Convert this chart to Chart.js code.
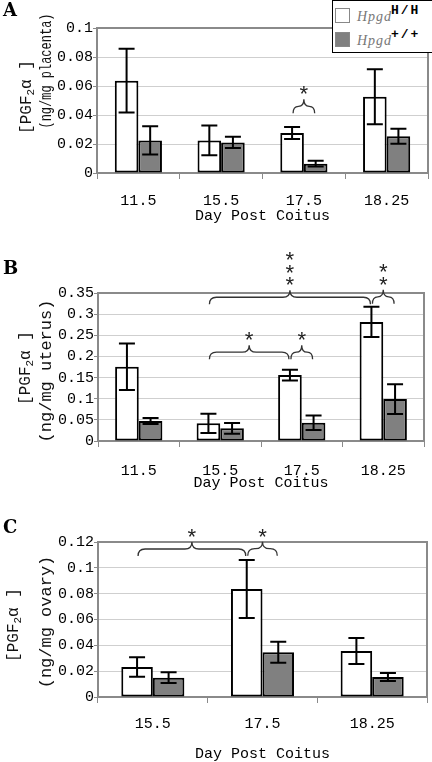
<!DOCTYPE html>
<html lang="en">
<head>
<meta charset="UTF-8">
<title>PGF2a by day post coitus</title>
<script src="https://cdn.jsdelivr.net/npm/chart.js"></script>
<style>
  body { margin: 0; background: #fff; }
  #page { position: relative; width: 432px; height: 762px; overflow: hidden; background: #fff; }
  canvas { position: absolute; left: 0; }
  .letter { position: absolute; left: 3px; font: bold 18px 'DejaVu Serif', serif; color: #000; line-height: 18px; }
  .legend { position: absolute; left: 332px; top: 0; width: 110px; height: 51px; border: 1px solid #000; background: #fff; }
  .legend span { position: absolute; white-space: nowrap; }
  .sw { width: 13px; height: 13px; border: 1px solid #888; }
  .lab { font: italic 14px 'Liberation Serif', serif; color: #777; letter-spacing: 1px; }
  .sup { font: bold 13px 'Liberation Mono', monospace; color: #000; letter-spacing: 2px; }
</style>
</head>
<body>
<div id="page">
  <canvas id="chartA" width="432" height="228" style="top:0"></canvas>
  <canvas id="chartB" width="432" height="267" style="top:228px"></canvas>
  <canvas id="chartC" width="432" height="267" style="top:495px"></canvas>

  <div class="letter" style="top:1px">A</div>
  <div class="letter" style="top:259px">B</div>
  <div class="letter" style="top:518px">C</div>

  <div class="legend">
    <span class="sw" style="left:2px; top:7px; background:#fff"></span>
    <span class="lab" style="left:24px; top:8px">Hpgd</span>
    <span class="sup" style="left:58px; top:2px">H/H</span>
    <span class="sw" style="left:2px; top:31px; background:#808080"></span>
    <span class="lab" style="left:24px; top:32px">Hpgd</span>
    <span class="sup" style="left:58px; top:26px">+/+</span>
  </div>
</div>

<script>
  // categories
  const daysAB = ['11.5', '15.5', '17.5', '18.25'];
  const daysC = ['15.5', '17.5', '18.25'];

  // A: placenta (ng/mg)
  const placentaHH = [0.0637, 0.0225, 0.0276, 0.0526];
  const placentaHHErr = [0.022, 0.0102, 0.0041, 0.019];
  const placentaWT = [0.0225, 0.0211, 0.0064, 0.0253];
  const placentaWTErr = [0.0097, 0.0039, 0.002, 0.0052];

  // B: uterus (ng/mg)
  const uterusHH = [0.1754, 0.0417, 0.1558, 0.2817];
  const uterusHHErr = [0.055, 0.023, 0.0126, 0.036];
  const uterusWT = [0.0472, 0.030, 0.0433, 0.0991];
  const uterusWTErr = [0.007, 0.0128, 0.017, 0.035];

  // C: ovary (ng/mg)
  const ovaryHH = [0.0232, 0.0836, 0.0356];
  const ovaryHHErr = [0.0075, 0.0225, 0.01];
  const ovaryWT = [0.015, 0.0346, 0.0155];
  const ovaryWTErr = [0.0042, 0.0081, 0.0031];

  // significance braces: [dataset, index] -> [dataset, index], level in data units
  const placentaBraces = [
    { from: [0, 2], to: [1, 2], level: 0.046, stars: 1 }
  ];
  const uterusBraces = [
    { from: [0, 1], to: [0, 3], level: 0.34, stars: 3 },
    { from: [0, 3], to: [1, 3], level: 0.341, stars: 2 },
    { from: [0, 1], to: [0, 2], level: 0.21, stars: 1 },
    { from: [0, 2], to: [1, 2], level: 0.21, stars: 1 }
  ];
  const ovaryBraces = [
    { from: [0, 0], to: [0, 1], level: 0.1146, stars: 1 },
    { from: [0, 1], to: [1, 1], level: 0.1148, stars: 1 }
  ];

  const MONO = "'Liberation Mono', monospace";

  function drawBrace(ctx, x1, x2, yl, h1, h2) {
    const xm = (x1 + x2) / 2;
    const r = Math.min(7, (x2 - x1) / 4);
    ctx.beginPath();
    ctx.moveTo(x1, yl + h1);
    ctx.quadraticCurveTo(x1, yl, x1 + r, yl);
    ctx.lineTo(xm - r, yl);
    ctx.quadraticCurveTo(xm, yl, xm, yl - h2);
    ctx.quadraticCurveTo(xm, yl, xm + r, yl);
    ctx.lineTo(x2 - r, yl);
    ctx.quadraticCurveTo(x2, yl, x2, yl + h1);
    ctx.stroke();
  }

  function drawStar(ctx, x, yc) {
    ctx.font = '22px ' + MONO;
    const m = ctx.measureText('*');
    const base = yc + (m.actualBoundingBoxAscent - m.actualBoundingBoxDescent) / 2;
    ctx.textAlign = 'center';
    ctx.textBaseline = 'alphabetic';
    ctx.fillText('*', x, base);
  }

  // rotated y title, two lines
  function drawYTitle(ctx, t) {
    ctx.save();
    ctx.fillStyle = '#111';
    ctx.textBaseline = 'middle';
    ctx.textAlign = 'left';
    // line 1: [PGF2a ]
    ctx.save();
    ctx.translate(t.x1, t.y1);
    ctx.rotate(-Math.PI / 2);
    const big = '16px ' + MONO, small = '11px ' + MONO;
    ctx.font = big;
    const w1 = ctx.measureText('[PGF').width;
    const w3 = ctx.measureText('\u03b1 ]').width;
    ctx.font = small;
    const w2 = ctx.measureText('2').width;
    let x = -(w1 + w2 + w3) / 2;
    ctx.font = big;
    ctx.fillText('[PGF', x, 0);
    x += w1;
    ctx.font = small;
    ctx.fillText('2', x, 4);
    x += w2;
    ctx.font = big;
    ctx.fillText('\u03b1 ]', x, 0);
    ctx.restore();
    // line 2
    ctx.translate(t.x2, t.y2);
    ctx.rotate(-Math.PI / 2);
    ctx.font = '17px ' + MONO;
    ctx.textAlign = 'center';
    ctx.fillText(t.text, 0, 0, t.maxWidth);
    ctx.restore();
  }

  const extras = {
    id: 'extras',
    beforeDatasetsDraw(chart) {
      const { ctx, chartArea: a } = chart;
      ctx.save();
      ctx.strokeStyle = '#8a8a8a';
      ctx.lineWidth = 2;
      ctx.strokeRect(a.left, a.top, a.right - a.left, a.bottom - a.top);
      ctx.restore();
    },
    afterDatasetsDraw(chart, args, opts) {
      const ctx = chart.ctx;
      const y = chart.scales.y;
      ctx.save();
      // error bars
      ctx.strokeStyle = '#000';
      ctx.lineWidth = 2;
      opts.errors.forEach((errs, d) => {
        const vals = chart.data.datasets[d].data;
        chart.getDatasetMeta(d).data.forEach((bar, i) => {
          const top = y.getPixelForValue(vals[i] + errs[i]);
          const bot = y.getPixelForValue(vals[i] - errs[i]);
          ctx.beginPath();
          ctx.moveTo(bar.x, top);
          ctx.lineTo(bar.x, bot);
          ctx.moveTo(bar.x - 8, top);
          ctx.lineTo(bar.x + 8, top);
          ctx.moveTo(bar.x - 8, bot);
          ctx.lineTo(bar.x + 8, bot);
          ctx.stroke();
        });
      });
      // braces and stars
      ctx.strokeStyle = '#333';
      ctx.fillStyle = '#222';
      ctx.lineWidth = 1.3;
      opts.braces.forEach(b => {
        const x1 = chart.getDatasetMeta(b.from[0]).data[b.from[1]].x + 1;
        const x2 = chart.getDatasetMeta(b.to[0]).data[b.to[1]].x - 1;
        const yl = y.getPixelForValue(b.level);
        drawBrace(ctx, x1, x2, yl, 7, 7);
        for (let s = 0; s < b.stars; s++) {
          drawStar(ctx, (x1 + x2) / 2, yl - 7 - 9 - s * 12.5);
        }
      });
      ctx.restore();
      drawYTitle(ctx, opts.title);
    }
  };

  function makeChart(id, labels, hh, wt, errs, braces, cfg) {
    return new Chart(document.getElementById(id), {
      type: 'bar',
      data: {
        labels: labels,
        datasets: [
          { label: 'Hpgd H/H', data: hh, backgroundColor: '#ffffff', borderColor: '#000', borderWidth: 2, borderSkipped: false },
          { label: 'Hpgd +/+', data: wt, backgroundColor: '#808080', borderColor: '#000', borderWidth: 2, borderSkipped: false }
        ]
      },
      options: {
        responsive: false,
        animation: false,
        categoryPercentage: cfg.catPct,
        barPercentage: 1,
        layout: { padding: { top: cfg.top, right: cfg.right, left: 0, bottom: 0 } },
        plugins: {
          legend: { display: false },
          tooltip: { enabled: false },
          extras: { errors: errs, braces: braces, title: cfg.title }
        },
        scales: {
          x: {
            afterFit: s => { s.height = cfg.xHeight; },
            border: { display: false },
            grid: { offset: true, drawOnChartArea: false, color: '#8a8a8a', tickColor: '#8a8a8a', tickLength: 6 },
            ticks: { color: '#000', font: { family: MONO, size: 15 }, padding: cfg.xPad, maxRotation: 0 },
            title: {
              display: true, text: 'Day Post Coitus', color: '#000',
              font: { family: MONO, size: 15, lineHeight: 1 },
              padding: { top: 0, bottom: cfg.titlePad }
            }
          },
          y: {
            min: 0,
            max: cfg.max,
            afterFit: s => { s.width = cfg.yWidth; },
            border: { display: false },
            grid: { color: '#cfcfcf', tickColor: '#8a8a8a', tickLength: 4 },
            ticks: {
              stepSize: cfg.step, padding: 0, color: '#000',
              font: { family: MONO, size: 15 },
              callback: v => String(+v.toFixed(3))
            }
          }
        }
      },
      plugins: [extras]
    });
  }

  makeChart('chartA', daysAB, placentaHH, placentaWT, [placentaHHErr, placentaWTErr], placentaBraces, {
    catPct: 0.57, top: 28, right: 4, yWidth: 97, xHeight: 55, xPad: 13, titlePad: 4,
    max: 0.1, step: 0.02,
    title: { x1: 27, y1: 97, x2: 46, y2: 71, text: '(ng/mg placenta)', maxWidth: 115 }
  });

  makeChart('chartB', daysAB, uterusHH, uterusWT, [uterusHHErr, uterusWTErr], uterusBraces, {
    catPct: 0.58, top: 65, right: 8, yWidth: 98, xHeight: 54, xPad: 15, titlePad: 4.5,
    max: 0.35, step: 0.05,
    title: { x1: 26, y1: 140, x2: 46, y2: 143, text: '(ng/mg uterus)', maxWidth: 150 }
  });

  makeChart('chartC', daysC, ovaryHH, ovaryWT, [ovaryHHErr, ovaryWTErr], ovaryBraces, {
    catPct: 0.575, top: 47, right: 5, yWidth: 98, xHeight: 65, xPad: 12, titlePad: 0,
    max: 0.12, step: 0.02,
    title: { x1: 14, y1: 130, x2: 46, y2: 127, text: '(ng/mg ovary)', maxWidth: 140 }
  });
</script>
</body>
</html>
